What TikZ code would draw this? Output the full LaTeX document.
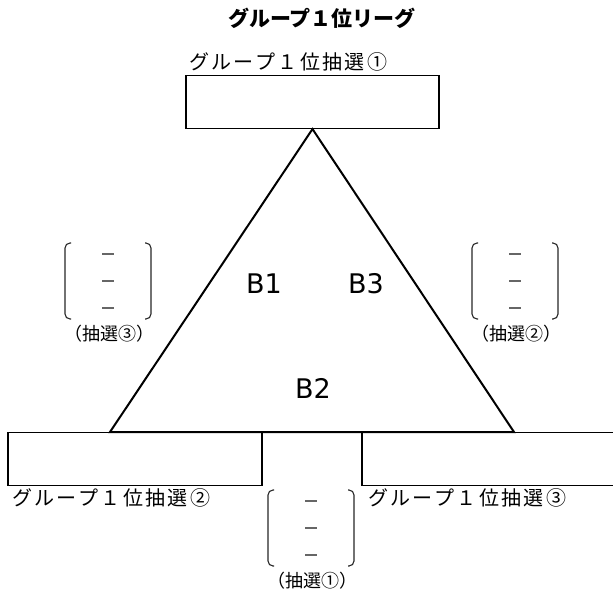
\documentclass[tikz,border=0pt]{standalone}
\usepackage{fontspec}
\setmainfont{DejaVu Sans}
\newfontfamily\jpfont{Noto Sans CJK JP}
\usetikzlibrary{arrows}
\definecolor{gris}{rgb}{0.15,0.15,0.15}
\definecolor{grisclair}{rgb}{0.4,0.4,0.4}

\begin{document}
\begin{tikzpicture}[x=1pt, y=-1pt, thin]
  \tikzstyle{box}=[draw=black, line width=1.1pt, minimum height=53pt, inner sep=0pt]
  \tikzstyle{jplabel}=[anchor=west, inner sep=0pt, font=\jpfont\fontsize{20}{20}\selectfont\addfontfeature{LetterSpace=12}]
  \tikzstyle{small}=[inner sep=0pt, font=\jpfont\fontsize{18}{18}\selectfont]
  \tikzstyle{team}=[inner sep=0pt, font=\fontsize{27}{27}\selectfont]

  \useasboundingbox (0,0) rectangle (613,595);

  % titre
  \node[inner sep=0pt, font=\jpfont\bfseries\fontsize{21}{21}\selectfont] (Titre) at (322,18) {グループ１位リーグ};

  % cases
  \node[box, minimum width=253pt] (H) at (312.5,102) {};
  \node[box, minimum width=254pt] (G) at (135,459) {};
  \node[box, minimum width=254pt] (D) at (489,459) {};

  \node[jplabel] (LH) at (189,62) {グループ１位抽選①};
  \node[jplabel] (LG) at (12,498) {グループ１位抽選②};
  \node[jplabel] (LD) at (368,498) {グループ１位抽選③};

  % triangle
  \coordinate (A) at (H.south);
  \coordinate (P) at (110,432);
  \coordinate (Q) at (514,432);
  \draw[line width=2pt, line join=miter] (A) -- (P) -- (Q) -- cycle;

  \node[team] (B1) at (264,284) {B1};
  \node[team] (B3) at (366,284) {B3};
  \node[team] (B2) at (313,388) {B2};

  % tirages
  \foreach \x/\y/\n in {108/281/③, 515/281/②, 311/528/①} {
    \draw[gris, line width=1.1pt, rounded corners=5pt] (\x-37,\y-38) -- (\x-43,\y-38) -- (\x-43,\y+38) -- (\x-37,\y+38);
    \draw[gris, line width=1.1pt, rounded corners=5pt] (\x+37,\y-38) -- (\x+43,\y-38) -- (\x+43,\y+38) -- (\x+37,\y+38);
    \foreach \k in {-27,0,27}
      \draw[grisclair, line width=1.1pt] (\x-6,\y+\k) -- (\x+6,\y+\k);
    \node[small] at (\x+1,\y+53) {（抽選\n）};
  }
\end{tikzpicture}
\end{document}
